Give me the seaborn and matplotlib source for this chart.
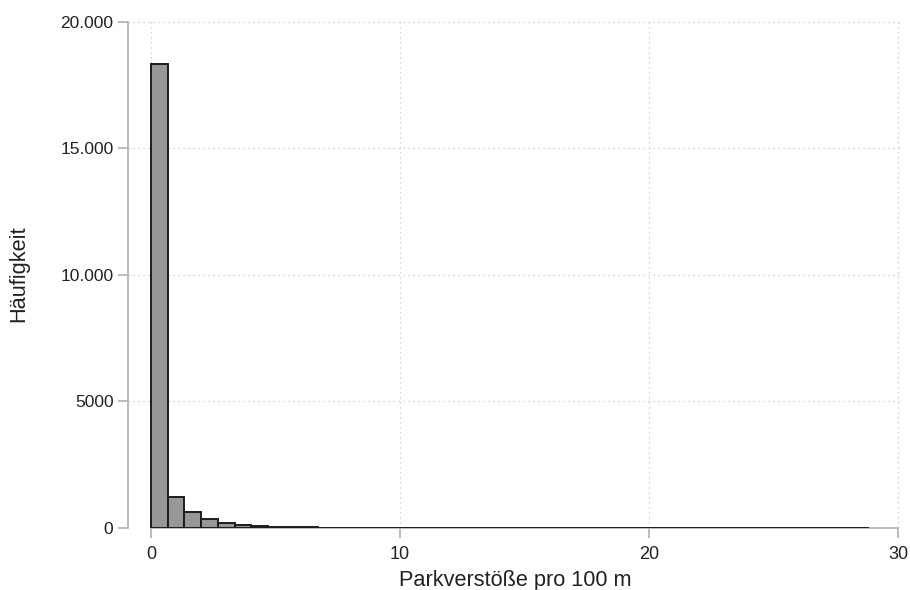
import numpy as np
import pandas as pd
import matplotlib
matplotlib.use("Agg")
import matplotlib.pyplot as plt
import seaborn as sns

# Frequency of parking violations per 100 m of street, 43 equal-width bins
bin_lo = 0.0
bin_hi = 28.84
bin_counts = [18340, 1215, 640, 352, 195, 118, 70, 45, 30, 22,
              16, 13, 10, 8, 7, 6, 5, 5, 4, 4,
              3, 3, 3, 2, 2, 2, 0, 2, 1, 2,
              1, 0, 1, 0, 0, 0, 0, 1, 1, 0,
              1, 0, 1]

x_ticks = [0, 10, 20, 30]
y_ticks = [0, 5000, 10000, 15000, 20000]
y_tick_labels = ["0", "5000", "10.000", "15.000", "20.000"]

x_label = "Parkverstöße pro 100 m"
y_label = "Häufigkeit"

edges = np.linspace(bin_lo, bin_hi, len(bin_counts) + 1)
df = pd.DataFrame({"wert": (edges[:-1] + edges[1:]) / 2,
                   "anzahl": np.asarray(bin_counts, dtype=float)})

sns.set_style("white")
plt.rcParams["font.family"] = ["Liberation Sans", "DejaVu Sans"]

fig = plt.figure(figsize=(9.1, 5.9), dpi=100)
ax = fig.add_axes([0.1407, 0.1051, 0.852, 0.862])

sns.histplot(data=df, x="wert", weights="anzahl", bins=edges.tolist(), ax=ax,
             color="#979797", edgecolor="#1c1c1c", linewidth=1.4, alpha=1.0,
             zorder=3)

ax.set_xlim(-0.92, 30.2)
ax.set_ylim(0, 20100)
ax.set_xticks(x_ticks)
ax.set_yticks(y_ticks)
ax.set_yticklabels(y_tick_labels)

ax.grid(True, linestyle=(0, (1, 3)), color="#c8c8c8", linewidth=0.9, zorder=0)
ax.set_axisbelow(True)

for side in ("top", "right"):
    ax.spines[side].set_visible(False)
for side in ("left", "bottom"):
    ax.spines[side].set_color("#b0b0b0")
    ax.spines[side].set_linewidth(1.2)
ax.spines["left"].set_bounds(0, 20000)
ax.spines["bottom"].set_bounds(0, 30)

ax.tick_params(axis="both", direction="out", length=7, width=1.2,
               color="#b0b0b0", labelcolor="#222222", labelsize=12.5,
               left=True, bottom=True)
ax.tick_params(axis="x", pad=6, labelsize=13)

ax.set_xlabel(x_label, fontsize=15.7, color="#222222", labelpad=5)
ax.set_ylabel(y_label, fontsize=15.7, color="#222222", labelpad=22)

fig.savefig("out.png", dpi=100)
